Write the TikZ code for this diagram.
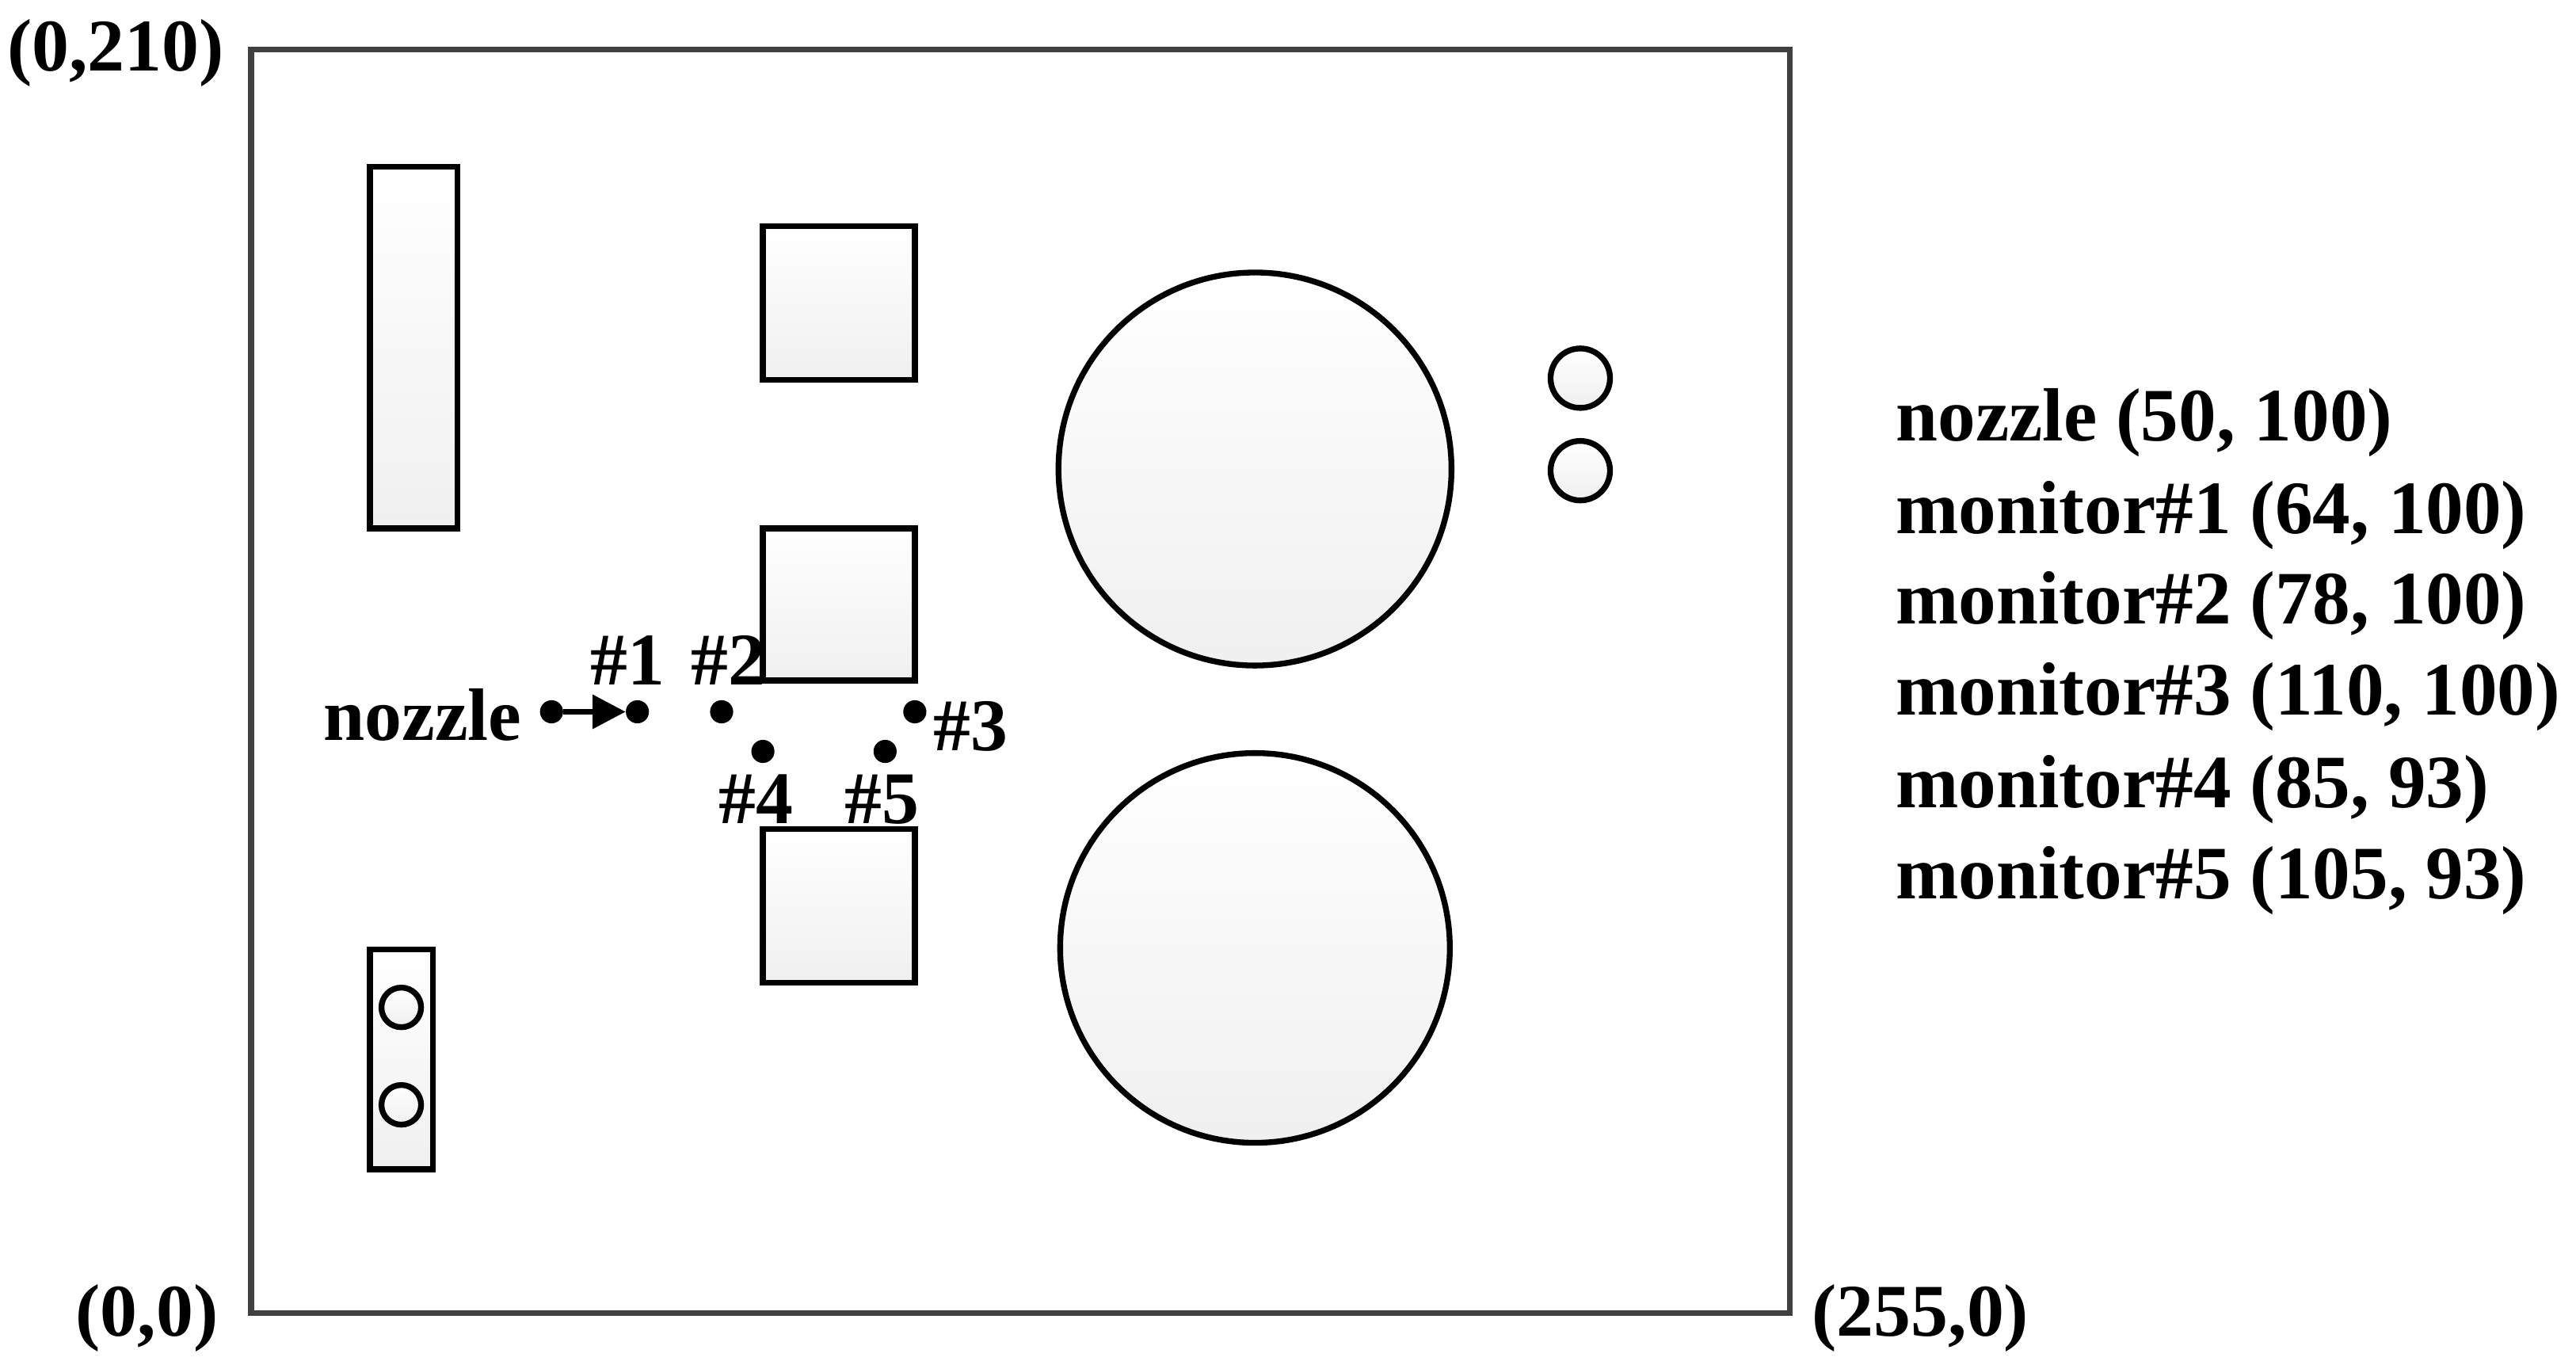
\documentclass[tikz,border=0pt]{standalone}
\usepackage{fontspec}
\setmainfont{Liberation Serif}
\usetikzlibrary{arrows.meta}
\begin{document}
\begin{tikzpicture}[x=0.05cm,y=-0.05cm,
  obj/.style={draw=black,line width=5pt,top color=white,bottom color=gray!12},
  dotn/.style={circle,fill=black,inner sep=0pt,minimum size=0.7cm},
  lab/.style={font=\fontsize{64}{76}\selectfont\bfseries,inner sep=0pt},
  rlab/.style={font=\fontsize{65}{78}\selectfont\bfseries,inner sep=0pt,anchor=west}]
\useasboundingbox (0,0) rectangle (1560,824);
\draw[draw=black!75,line width=5pt] (152,30) rectangle (1084,795);
\draw[obj] (224,101) rectangle (277,320);
\draw[obj] (462,137) rectangle (554,230);
\draw[obj] (462,320) rectangle (554,412);
\draw[obj] (462,502) rectangle (554,595);
\draw[obj] (760,284) circle[radius=5.95cm];
\draw[obj] (760,574) circle[radius=5.9cm];
\draw[obj] (957,229) circle[radius=0.9cm];
\draw[obj] (957,285) circle[radius=0.9cm];
\draw[obj] (224,575) rectangle (262,708);
\draw[obj] (243,610) circle[radius=0.6cm];
\draw[obj] (243,669) circle[radius=0.6cm];
\node[dotn] (nz) at (334,431) {};
\node[dotn] (m1) at (386,431) {};
\node[dotn] (m2) at (437,431) {};
\node[dotn] (m3) at (554,431) {};
\node[dotn] (m4) at (462,455) {};
\node[dotn] (m5) at (536,455) {};
\draw[line width=5pt,-{Triangle[length=1cm,width=1cm]}] (nz) -- (m1);
\node[lab,anchor=east] (tnz) at (316,433) {nozzle};
\node[lab] (t1) at (380,400) {\#1};
\node[lab] (t2) at (441,400) {\#2};
\node[lab] (t3) at (588,440) {\#3};
\node[lab] (t4) at (458,484) {\#4};
\node[lab] (t5) at (534,484) {\#5};
\node[lab] (c1) at (70,32) {(0,210)};
\node[lab] (c2) at (89,798) {(0,0)};
\node[lab] (c3) at (1163,798) {(255,0)};
\node[rlab] (r1) at (1148,256) {nozzle (50, 100)};
\node[rlab] (r2) at (1148,312) {monitor\#1 (64, 100)};
\node[rlab] (r3) at (1148,367) {monitor\#2 (78, 100)};
\node[rlab] (r4) at (1148,422) {monitor\#3 (110, 100)};
\node[rlab] (r5) at (1148,478) {monitor\#4 (85, 93)};
\node[rlab] (r6) at (1148,533) {monitor\#5 (105, 93)};
\end{tikzpicture}
\end{document}
